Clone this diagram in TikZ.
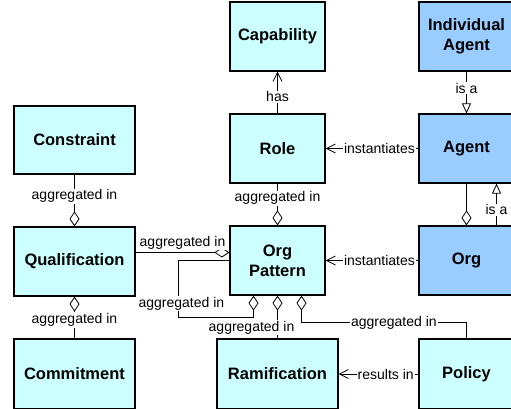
\documentclass[tikz,border=0pt]{standalone}
\usepackage{fontspec}
\setmainfont{Liberation Sans}
\usetikzlibrary{arrows.meta}

\definecolor{lightcyan}{RGB}{204,255,255}
\definecolor{agentblue}{RGB}{153,204,255}

\tikzset{
  entity/.style={draw, line width=1.2pt, fill=lightcyan, minimum width=95pt, minimum height=69pt, inner sep=0pt, align=center, font=\fontsize{16.5}{19.8}\selectfont\bfseries},
  wide/.style={minimum width=121pt},
  agentbox/.style={fill=agentblue},
  conn/.style={line width=0.8pt},
  lbl/.style={fill=white, inner sep=1pt, font=\fontsize{14}{16}\selectfont},
  inst/.style={conn, -{Straight Barb[length=9pt,width=9pt]}},
  isa/.style={conn, -{Triangle[open,length=10pt,width=9pt]}},
  agg/.style={conn, -{Diamond[open,length=15pt,width=10pt]}},
}

\begin{document}
\begin{tikzpicture}[x=1pt, y=-1pt]
\useasboundingbox (0,0) rectangle (511,409);

\node[entity] (cap) at (277.5,36.5) {Capability};
\node[entity, agentbox] (ind) at (466.5,36.5) {Individual\\Agent};
\node[entity, wide, minimum height=68pt] (con) at (74.5,140) {Constraint};
\node[entity] (role) at (277.5,148.5) {Role};
\node[entity, agentbox] (agent) at (466.5,148.5) {Agent};
\node[entity, wide] (qual) at (74.5,261.5) {Qualification};
\node[entity] (op) at (277.5,260.5) {Org\\Pattern};
\node[entity, agentbox] (org) at (466.5,260.5) {Org};
\node[entity, wide, minimum height=70pt] (com) at (74.5,374) {Commitment};
\node[entity, wide, minimum height=70pt] (ram) at (277.5,374) {Ramification};
\node[entity, minimum height=70pt] (pol) at (466.5,374) {Policy};

\draw[inst] (role) -- node[lbl, pos=0.4] {has} (cap);
\draw[inst] (agent) -- node[lbl, pos=0.42] {instantiates} (role);
\draw[isa] (ind) -- node[lbl, pos=0.4] {is a} (agent);
\draw[agg] (agent) -- (org);
\draw[isa] ([xshift=30pt]org.north) -- node[lbl, pos=0.37] {is a} ([xshift=30pt]agent.south);
\draw[inst] (org) -- node[lbl, pos=0.42] {instantiates} (op);
\draw[agg] (role) -- node[lbl, pos=0.35] {aggregated in} (op);
\draw[agg] (con) -- node[lbl, pos=0.42] {aggregated in} (qual);
\draw[agg] (com) -- node[lbl, pos=0.44] {aggregated in} (qual);
\draw[agg] ([yshift=9pt]qual.east) -- node[lbl, above, yshift=2pt] {aggregated in} ([yshift=9pt]qual.east -| op.west);
\draw[agg] (op.west) -- ++(-51,0) |- node[lbl, pos=0.38, xshift=3pt] {aggregated in} ([xshift=-24pt,yshift=-22pt]op.south) -- ([xshift=-24pt]op.south);
\draw[agg] (ram) -- node[lbl, pos=0.25, xshift=-26pt] {aggregated in} (op);
\draw[agg] (pol.north) |- node[lbl, pos=0.72] {aggregated in} ([xshift=24pt,yshift=-27pt]op.south) -- ([xshift=24pt]op.south);
\draw[inst] (pol) -- node[lbl, pos=0.41] {results in} (ram);
\end{tikzpicture}
\end{document}
